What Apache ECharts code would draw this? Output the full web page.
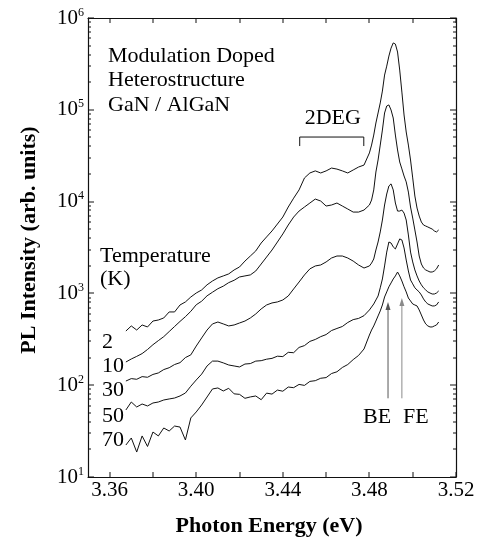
<!DOCTYPE html>
<html>
<head>
<meta charset="utf-8">
<script src="https://cdn.jsdelivr.net/npm/echarts@6/dist/echarts.min.js"></script>
<style>
  html, body { margin: 0; padding: 0; background: #fff; }
  #main { width: 479px; height: 540px; }
</style>
</head>
<body>
<div id="main"></div>
<script>
// photon energy grid (eV)
const energy = [
  3.3675, 3.37, 3.3725, 3.375, 3.3775, 3.38, 3.3825, 3.385, 3.3875, 3.39,
  3.3925, 3.395, 3.3975, 3.40, 3.4025, 3.405, 3.4075, 3.41, 3.4125, 3.415,
  3.4175, 3.42, 3.4225, 3.425, 3.4275, 3.43, 3.4325, 3.435, 3.4375, 3.44,
  3.4425, 3.445, 3.4475, 3.45, 3.4525, 3.455, 3.4575, 3.46, 3.4625, 3.465,
  3.4675, 3.47, 3.4725, 3.475, 3.4775, 3.48,
  3.481, 3.482, 3.483, 3.484, 3.485, 3.486, 3.487, 3.488, 3.489, 3.490,
  3.491, 3.492, 3.493, 3.494, 3.495, 3.496, 3.497, 3.498, 3.499, 3.500,
  3.501, 3.502, 3.503, 3.504, 3.505, 3.506, 3.507, 3.508, 3.509, 3.510,
  3.511, 3.512
];

// PL intensity (arb. units) per temperature
const pl2K = [
  389, 442, 399, 453, 431, 500, 513, 540, 628, 628,
  748, 807, 914, 1010, 1090, 1240, 1365, 1475, 1550, 1630,
  1800, 1940, 2250, 2555, 2900, 3540, 4120, 4790, 5700, 6790,
  8730, 10900, 13400, 18100, 20500, 21600, 20500, 21600, 23200, 22600,
  21600, 20500, 22100, 23800, 25000, 33900,
  41300, 53100, 71800, 92300, 118700, 160000, 239000, 299000, 385000, 470000,
  535000, 520000, 426000, 271000, 156000, 87800, 57300, 41300, 28400, 18100,
  11500, 8510, 6960, 5990, 5560, 5420, 5290, 5150, 5020, 4790,
  4670, 4910
];
const pl10K = [
  179, 193, 206, 221, 245, 276, 306, 338, 384, 436,
  495, 558, 638, 752, 822, 941, 1030, 1125, 1200, 1310,
  1390, 1510, 1550, 1590, 1755, 2090, 2490, 2970, 3630, 4440,
  5560, 6790, 7890, 8730, 9650, 10660, 10140, 8950, 9180, 9650,
  8950, 8300, 7690, 7690, 8090, 9180,
  10400, 13400, 21000, 28400, 41300, 60200, 92300, 110000, 113000, 99500,
  81400, 53100, 36500, 27000, 22700, 19000, 16400, 12700, 8730, 6620,
  4910, 3630, 2555, 2090, 1890, 1800, 1755, 1710, 1710, 1755,
  1850, 2040
];
const pl30K = [
  111, 118, 116, 124, 122, 131, 136, 148, 155, 168,
  176, 200, 214, 267, 327, 399, 465, 488, 465, 442,
  453, 476, 500, 540, 597, 677, 748, 787, 807, 848,
  937, 1118, 1330, 1590, 1850, 1990, 2040, 2200, 2430, 2555,
  2555, 2430, 2250, 2040, 1890, 1990,
  2140, 2370, 2970, 3630, 4670, 6300, 9180, 12100, 14800, 15600,
  13400, 9650, 7890, 7890, 8090, 7500, 6300, 4330, 2820, 2200,
  1800, 1550, 1365, 1240, 1150, 1090, 1037, 1010, 985, 985,
  1010, 1063
];
const pl50K = [
  53.7, 65.6, 57.9, 62.4, 59.4, 64.0, 65.6, 69.0, 70.8, 72.5,
  76.3, 82.2, 97.5, 114, 132, 162, 183, 183, 175, 166,
  162, 158, 170, 172, 183, 185, 192, 196, 207, 205,
  228, 226, 258, 270, 300, 315, 338, 356, 394, 415,
  436, 482, 518, 534, 572, 660,
  711, 767, 848, 937, 1150, 1436, 1990, 2820, 3630, 3540,
  3210, 3050, 3455, 3920, 3820, 3125, 2310, 1755, 1400, 1270,
  1150, 1090, 1037, 961, 870, 807, 767, 748, 730, 730,
  748, 807
];
const pl70K = [
  22.3, 26.6, 18.7, 28.0, 21.5, 30.9, 28.0, 34.2, 31.7, 35.9,
  35.0, 25.3, 44.0, 51.1, 60.9, 74.4, 91.0, 93.3, 86.5, 92.5,
  80.5, 79.5, 72.0, 74.5, 76.3, 69.5, 82.0, 80.0, 88.5, 86.0,
  95.5, 94.0, 102, 99.5, 110, 112, 119, 121, 134, 140,
  156, 168, 190, 211, 248, 352,
  399, 442, 500, 568, 644, 748, 914, 1037, 1180, 1300,
  1436, 1550, 1710, 1550, 1365, 1180, 1037, 891, 827, 767,
  748, 730, 660, 582, 513, 465, 442, 431, 431, 442,
  453, 488
];

const temperatures = ['2', '10', '30', '50', '70'];
const xTickValues = [3.36, 3.38, 3.40, 3.42, 3.44, 3.46, 3.48, 3.50, 3.52];
const xLabelValues = [3.36, 3.40, 3.44, 3.48, 3.52];
const yDecades = [10, 100, 1000, 10000, 100000, 1000000];
const yMinorValues = [
  20, 30, 40, 50, 60, 70, 80, 90,
  200, 300, 400, 500, 600, 700, 800, 900,
  2000, 3000, 4000, 5000, 6000, 7000, 8000, 9000,
  20000, 30000, 40000, 50000, 60000, 70000, 80000, 90000,
  200000, 300000, 400000, 500000, 600000, 700000, 800000, 900000
];

// annotation anchors (energy, intensity)
const degBracket = { from: 3.4478, to: 3.4774, top: 50500, foot: 40300 };
const beArrow = { energy: 3.4886, tail: 72, head: 805 };
const feArrow = { energy: 3.4950, tail: 72, head: 890 };

const FONT = '"Liberation Serif", "Times New Roman", serif';
const INK = '#111';
const X_MIN = 3.35, X_MAX = 3.52, Y_MIN = 10, Y_MAX = 1000000;

const chart = echarts.init(document.getElementById('main'));

const plSeries = [pl2K, pl10K, pl30K, pl50K, pl70K].map((vals, i) => ({
  name: temperatures[i] + ' K',
  type: 'line',
  symbol: 'none',
  silent: true,
  lineStyle: { color: INK, width: 1 },
  data: energy.map((e, j) => [e, vals[j]])
}));

const axisLine = { show: true, lineStyle: { color: INK, width: 1.2 } };

const option = {
  animation: false,
  backgroundColor: '#fff',
  grid: { left: 88, right: 23, top: 18, bottom: 63 },
  xAxis: [
    {
      type: 'value', position: 'bottom', min: X_MIN, max: X_MAX,
      axisLine: axisLine,
      axisTick: { show: false },
      splitLine: { show: false },
      axisLabel: {
        customValues: xLabelValues,
        formatter: v => v.toFixed(2),
        fontFamily: FONT,
        fontSize: 21,
        color: '#000',
        margin: 3
      }
    },
    {
      type: 'value', position: 'top', min: X_MIN, max: X_MAX,
      axisLine: axisLine,
      axisTick: { show: false }, axisLabel: { show: false }, splitLine: { show: false }
    }
  ],
  yAxis: [
    {
      type: 'log', logBase: 10, position: 'left', min: Y_MIN, max: Y_MAX,
      axisLine: axisLine,
      axisTick: { show: false },
      splitLine: { show: false },
      axisLabel: {
        customValues: yDecades,
        margin: 4,
        formatter: v => '{b|10}{s|' + Math.round(Math.log10(v)) + '}',
        rich: {
          b: { fontFamily: FONT, fontSize: 21, color: '#000' },
          s: { fontFamily: FONT, fontSize: 12, color: '#000', padding: [0, 0, 11, 0] }
        }
      }
    },
    {
      type: 'log', logBase: 10, position: 'right', min: Y_MIN, max: Y_MAX,
      axisLine: axisLine,
      axisTick: { show: false }, axisLabel: { show: false }, splitLine: { show: false }
    }
  ],
  series: plSeries
};

chart.setOption(option);

const toPx = (e, v) => chart.convertToPixel({ xAxisIndex: 0, yAxisIndex: 0 }, [e, v]);

function label(text, x, y, size) {
  return {
    type: 'text',
    x: x,
    y: y,
    silent: true,
    style: {
      text: text,
      font: (size || 22) + 'px ' + FONT,
      fill: '#000',
      textAlign: 'left',
      textVerticalAlign: 'middle'
    }
  };
}

function arrow(a, color) {
  const tail = toPx(a.energy, a.tail);
  const head = toPx(a.energy, a.head);
  return [
    { type: 'line', silent: true, shape: { x1: tail[0], y1: tail[1], x2: head[0], y2: head[1] + 6 },
      style: { stroke: color, lineWidth: 1 } },
    { type: 'polygon', silent: true,
      shape: { points: [[head[0], head[1]], [head[0] - 2.5, head[1] + 8], [head[0] + 2.5, head[1] + 8]] },
      style: { fill: color } }
  ];
}

// inward tick marks on all four frame sides, positioned through the axis scales
const lo = toPx(X_MIN, Y_MIN);
const hi = toPx(X_MAX, Y_MAX);
const ticks = [];
function tickRect(x, y, w, h) {
  ticks.push({ type: 'rect', silent: true, z: 10, shape: { x: x, y: y, width: w, height: h }, style: { fill: INK } });
}
xTickValues.forEach(v => {
  const x = Math.round(toPx(v, Y_MIN)[0]) - 0.5;
  tickRect(x, lo[1] - 5, 1, 5);
  tickRect(x, hi[1], 1, 5);
});
yDecades.map(v => [v, 6]).concat(yMinorValues.map(v => [v, 3])).forEach(([v, len]) => {
  const y = Math.round(toPx(X_MIN, v)[1]) - 0.5;
  tickRect(lo[0], y, len, 1);
  tickRect(hi[0] - len, y, len, 1);
});

const b0 = toPx(degBracket.from, degBracket.top);
const b1 = toPx(degBracket.to, degBracket.top);
const f0 = toPx(degBracket.from, degBracket.foot);

const graphics = [
  label('Modulation Doped', 108, 56),
  label('Heterostructure', 108, 80),
  label('GaN / AlGaN', 108, 105),
  label('2DEG', b0[0] + 5, 118),
  {
    type: 'polyline', silent: true,
    shape: { points: [[b0[0], f0[1]], [b0[0], b0[1]], [b1[0], b1[1]], [b1[0], f0[1]]] },
    style: { stroke: INK, lineWidth: 1, fill: null }
  },
  label('Temperature', 100, 256),
  label('(K)', 100, 279),
  label('BE', 363, 417),
  label('FE', 403, 417),
  // axis titles
  {
    type: 'text', silent: true, x: 269, y: 526,
    style: { text: 'Photon Energy (eV)', font: 'bold 22px ' + FONT, fill: '#000',
             textAlign: 'center', textVerticalAlign: 'middle' }
  },
  {
    type: 'text', silent: true, x: 29, y: 240, rotation: Math.PI / 2,
    style: { text: 'PL Intensity (arb. units)', font: 'bold 22px ' + FONT, fill: '#000',
             textAlign: 'center', textVerticalAlign: 'middle' }
  }
].concat(arrow(beArrow, '#555'), arrow(feArrow, '#8a8a8a'), ticks);

const tempLabelY = [342, 366, 390, 416, 440];
temperatures.forEach((t, i) => graphics.push(label(t, 102, tempLabelY[i])));

chart.setOption({ graphic: graphics });
</script>
</body>
</html>
